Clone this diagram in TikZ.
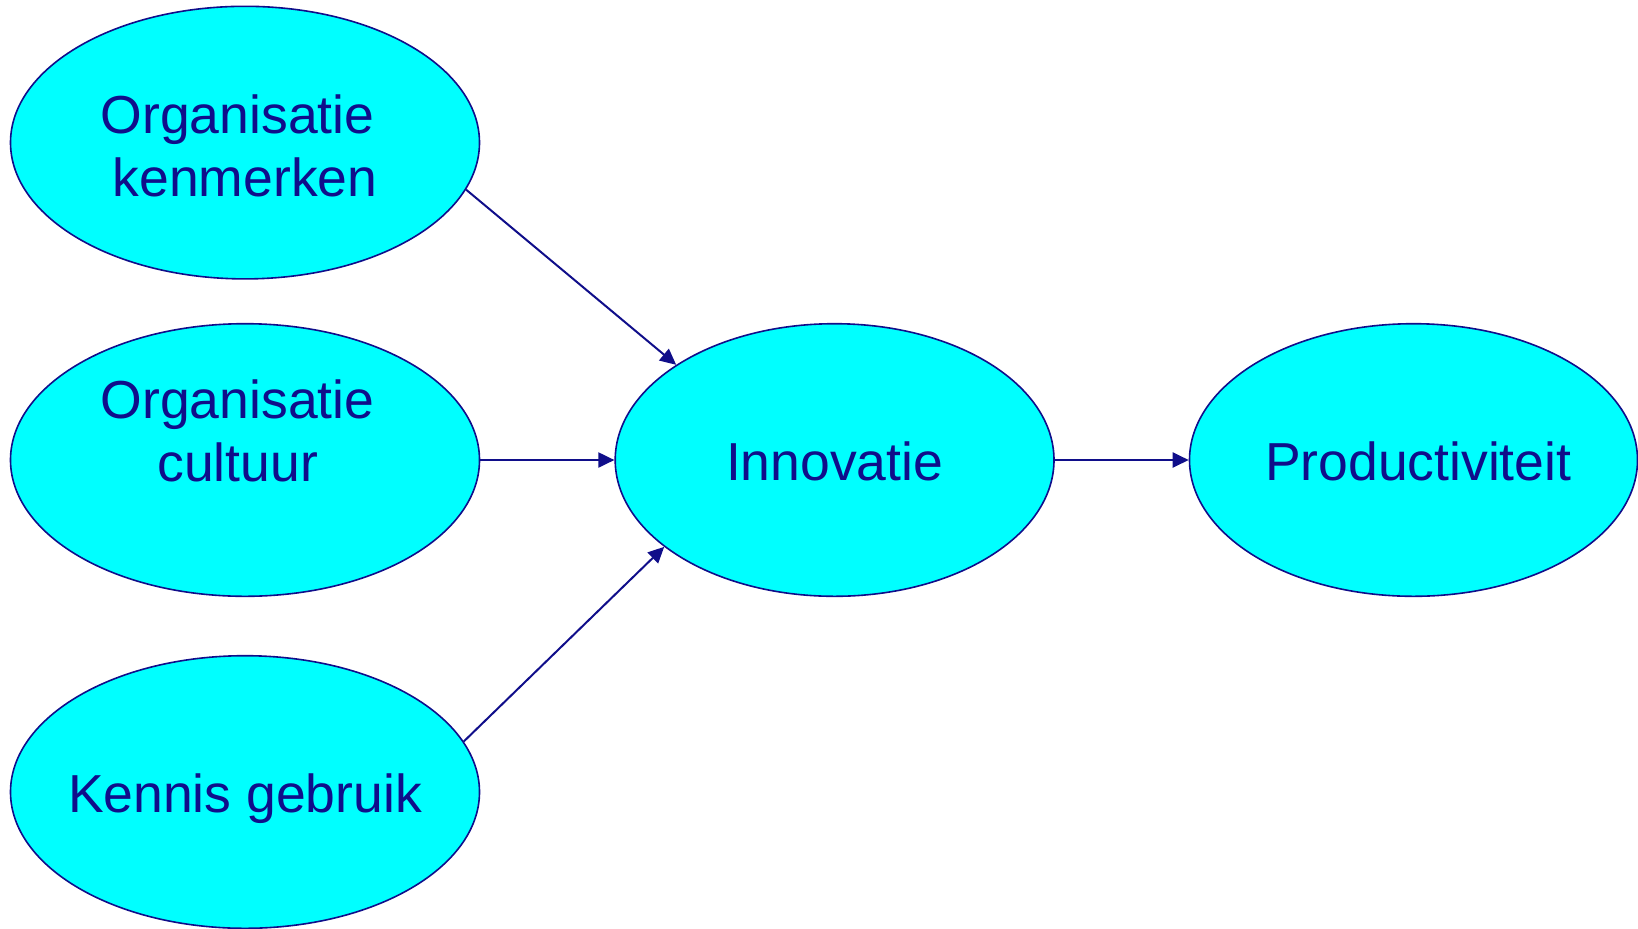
\documentclass[tikz,border=0pt]{standalone}
\usepackage{fontspec}
\setmainfont{Liberation Sans}
\usetikzlibrary{shapes.geometric,arrows.meta}
\definecolor{navy}{RGB}{16,14,138}
\definecolor{aqua}{RGB}{0,255,255}
\tikzset{
  bubble/.style={ellipse, draw=navy, fill=aqua, line width=0.8pt, inner sep=0pt,
    text=navy, align=center, text depth=0pt, font=\fontsize{26.75}{31.4}\selectfont},
  conn/.style={draw=navy, line width=1pt, -{Triangle[length=8pt,width=7.5pt]}}
}
\begin{document}
\begin{tikzpicture}[x=0.5pt,y=-0.5pt]
\useasboundingbox (0,0) rectangle (1638,928);
\node[bubble, minimum width=234.5pt, minimum height=136.3pt, text height=53.8pt] (ok) at (245,142.6)
  {Organisatie\rule{0.278em}{0pt}\\kenmerken};
\node[bubble, minimum width=234.5pt, minimum height=136.3pt, text height=21.4pt] (oc) at (245,460)
  {Organisatie\rule{0.278em}{0pt}\\cultuur\rule{0.278em}{0pt}};
\node[bubble, minimum width=234.5pt, minimum height=136.3pt, text height=20.7pt] (kg) at (245,792)
  {\makebox[0pt][c]{Kennis gebruik}};
\node[bubble, minimum width=219.4pt, minimum height=136.3pt, text height=20pt] (inn) at (834.6,460)
  {Innovatie};
\node[bubble, minimum width=224pt, minimum height=136.3pt, text height=20pt] (prod) at (1413.5,460)
  {\rule{4.7pt}{0pt}Productiviteit};
\draw[conn] (ok.-12.7) -- (inn.149.7);
\draw[conn] (oc.east) -- (inn.west);
\draw[conn] (kg.13.8) -- (inn.207.8);
\draw[conn] (inn.east) -- (prod.west);
\end{tikzpicture}
\end{document}
